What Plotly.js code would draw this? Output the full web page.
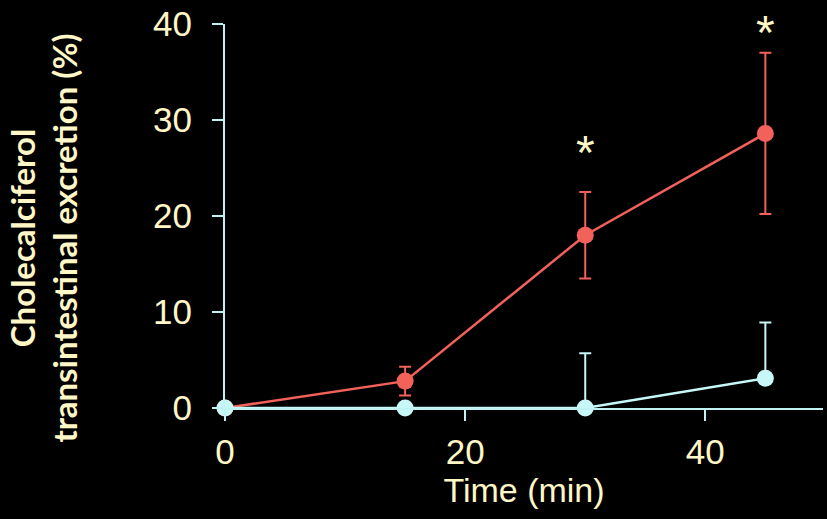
<!DOCTYPE html>
<html>
<head>
<meta charset="utf-8">
<script src="https://cdn.plot.ly/plotly-3.0.1.min.js"></script>
<style>html,body{margin:0;padding:0;background:#000;}#chart{width:827px;height:519px;}</style>
</head>
<body>
<div id="chart"></div>
<script>
const timeMin = [0, 15, 30, 45];
const redValues = [0, 2.8, 18.0, 28.6];
const redErr = [0, 1.5, 4.5, 8.4];
const cyanValues = [0, 0, 0, 3.1];
const cyanErrUp = [0, 0, 5.7, 5.8];
const cyanErrDown = [0, 0, 0, 0];
const starX = [30, 45];
const starY = [27.4, 39.9];
const xTicks = [0, 20, 40];
const yTicks = [0, 10, 20, 30, 40];
const xTitle = 'Time (min)';
const yTitle = 'Cholecalciferol<br>transintestinal excretion (%)';

const RED = '#F2615A';
const CYAN = '#C8F7F7';
const AXIS = '#BFF2F2';
const TEXT = '#FFF7C6';

const traces = [
  {
    x: timeMin, y: redValues, type: 'scatter', mode: 'lines+markers',
    line: {color: RED, width: 2.5},
    marker: {color: RED, size: 17},
    error_y: {type: 'data', array: redErr, visible: true, color: RED, thickness: 2, width: 6},
    cliponaxis: false, showlegend: false
  },
  {
    x: timeMin, y: cyanValues, type: 'scatter', mode: 'lines+markers',
    line: {color: CYAN, width: 2.5},
    marker: {color: CYAN, size: 17},
    error_y: {type: 'data', symmetric: false, array: cyanErrUp, arrayminus: cyanErrDown, visible: true, color: CYAN, thickness: 2, width: 6},
    cliponaxis: false, showlegend: false
  }
];

const annotations = starX.map((x, i) => ({
  x: x, y: starY[i], xref: 'x', yref: 'y', text: '*', showarrow: false,
  font: {family: 'Liberation Sans, Arial, sans-serif', size: 48, color: TEXT},
  yanchor: 'middle', yshift: -8
}));
annotations.push({
  xref: 'paper', yref: 'paper', x: -0.305, y: 0.4427,
  text: yTitle, showarrow: false, textangle: -90,
  font: {family: 'Lato, Open Sans, sans-serif', size: 33, color: TEXT, weight: 'bold'},
  xanchor: 'center', yanchor: 'middle', align: 'center'
});

const layout = {
  width: 827, height: 519,
  paper_bgcolor: '#000', plot_bgcolor: '#000',
  margin: {l: 225, r: 4, t: 24, b: 111},
  font: {family: 'Liberation Sans, Arial, sans-serif', color: TEXT},
  xaxis: {
    range: [0, 49.8], tickvals: xTicks, ticktext: xTicks.map(String),
    showgrid: false, zeroline: false, showline: true, linecolor: AXIS, linewidth: 2,
    ticks: 'outside', ticklen: 11, tickwidth: 2, tickcolor: AXIS,
    tickfont: {size: 35, color: TEXT}, ticklabelstandoff: 1,
    title: {text: xTitle, font: {size: 34, color: TEXT}, standoff: 8}
  },
  yaxis: {
    range: [0, 40], tickvals: yTicks, ticktext: yTicks.map(String),
    showgrid: false, zeroline: false, showline: true, linecolor: AXIS, linewidth: 2,
    ticks: 'outside', ticklen: 11, tickwidth: 2, tickcolor: AXIS,
    tickfont: {size: 35, color: TEXT}, ticklabelstandoff: 13
  },
  annotations: annotations
};

Plotly.newPlot('chart', traces, layout, {displayModeBar: false, staticPlot: true});
</script>
</body>
</html>
